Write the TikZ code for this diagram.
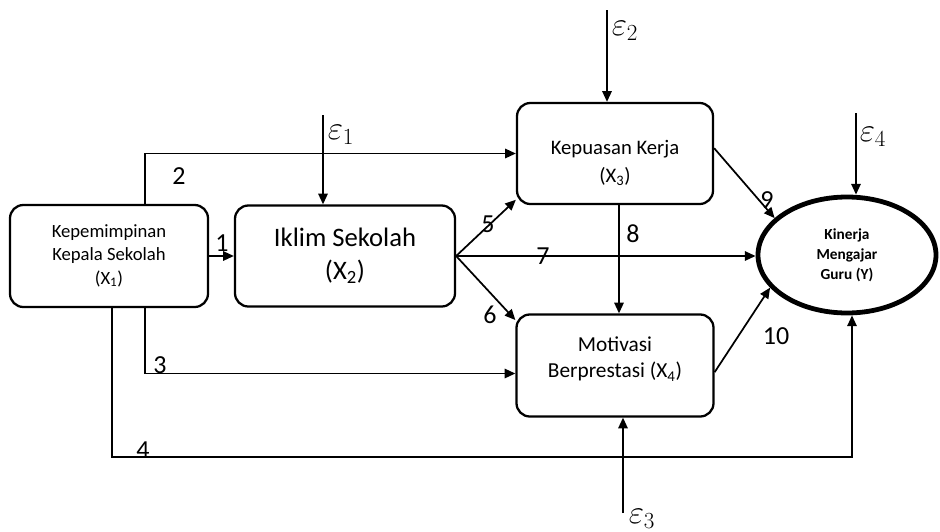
\documentclass[tikz,border=0pt]{standalone}
\usepackage{fontspec}
\setmainfont{Carlito}
\usetikzlibrary{arrows.meta,shapes.geometric}
\begin{document}
\begin{tikzpicture}[x=0.75pt, y=-0.75pt, line width=1.3pt, >={Triangle[length=8pt,width=7pt]},
  var/.style={draw, rounded corners=10pt, line width=1.7pt, align=center, inner sep=0pt},
  num/.style={font=\fontsize{19.5}{22}\selectfont, inner sep=0pt},
  err/.style={font=\fontsize{24}{26}\selectfont, inner sep=0pt}]
\useasboundingbox (0,0) rectangle (940,532);
\node (x1) [var, minimum width=148.5pt, minimum height=76.5pt, font=\fontsize{14}{17.3}\selectfont] at (109,256) {Kepemimpinan\\Kepala Sekolah\\(X\textsubscript{1})};
\node (x2) [var, right of=x1, node distance=177pt, minimum width=165pt, minimum height=75.75pt, font=\fontsize{20}{24.75}\selectfont] {Iklim Sekolah\\(X\textsubscript{2})};
\node (x3) [var, minimum width=147pt, minimum height=75.75pt, font=\fontsize{15.5}{21.5}\selectfont] at (615,153.5) {\rule{0pt}{24.5pt}Kepuasan Kerja\\(X\textsubscript{3})};
\node (x4) [var, below of=x3, node distance=159pt, minimum width=147.75pt, minimum height=76.5pt, font=\fontsize{16}{19.5}\selectfont] {Motivasi\\Berprestasi (X\textsubscript{4})\rule[-12.5pt]{0pt}{0pt}};
\node (y) [draw, ellipse, line width=3.6pt, minimum width=133.5pt, minimum height=87pt, align=center, inner sep=0pt, font=\fontsize{11.5}{15}\selectfont\bfseries] at (847,255) {Kinerja\\Mengajar\\Guru (Y)};
\coordinate (bot) at (500,457);
\coordinate (e1s) at (323,115);
\coordinate (e2s) at (607,10);
\coordinate (e3s) at (623,513);
\coordinate (e4s) at (856,113);
\node (e1) [err] at (341,135) {$\varepsilon_1$};
\node (e2) [err] at (625,31) {$\varepsilon_2$};
\node (e3) [err] at (642,519) {$\varepsilon_3$};
\node (e4) [err] at (873,137) {$\varepsilon_4$};
\node (l1) [num] at (222,243) {1};
\node (l2) [num] at (179,176) {2};
\node (l3) [num] at (160,365) {3};
\node (l4) [num] at (143,450) {4};
\node (l5) [num] at (488,224) {5};
\node (l6) [num] at (490,315) {6};
\node (l7) [num] at (543,256) {7};
\node (l8) [num] at (633,234) {8};
\node (l9) [num] at (767,200) {9};
\node (l10) [num] at (776,336) {10};
\draw[->] (x1.east) to (x1.east -| x2.west);
\draw[->] ([xshift=27pt]x1.north) |- (x3.west);
\draw[->] ([xshift=27pt]x1.south) |- ([yshift=-6pt]x4.west);
\draw[->] ([xshift=2.25pt]x1.south) |- (bot) -| ([xshift=3.75pt]y.south);
\draw[->] (x2.east) to ([yshift=4pt]x3.south west);
\draw[->] (x2.east) to ([yshift=-5pt]x4.north west);
\draw[->] (x2.east) to (x2.east -| y.west);
\draw[->] ([xshift=3pt]x3.south) to ([xshift=3pt]x3.south |- x4.north);
\draw[->] ([yshift=4pt]x3.east) to (y.153);
\draw[->] ([yshift=-5pt]x4.east) to (y.203);
\draw[->] (e1s) to (e1s |- x2.north);
\draw[->] (e2s) to (e2s |- x3.north);
\draw[->] (e3s) to (e3s |- x4.south);
\draw[->] (e4s) to (e4s |- y.north);
\end{tikzpicture}
\end{document}
